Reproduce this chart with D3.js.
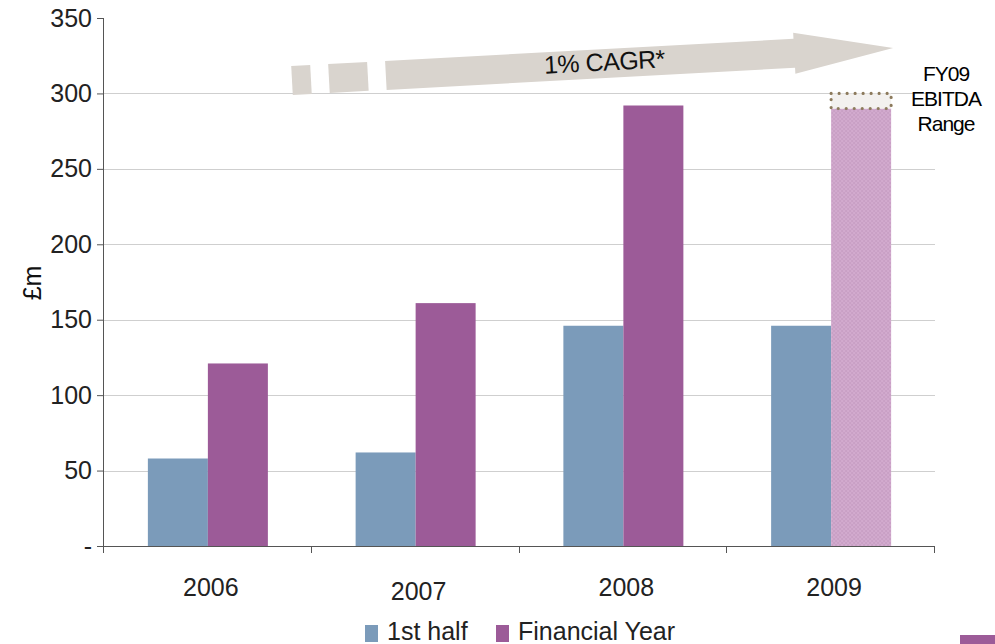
<!DOCTYPE html>
<html>
<head>
<meta charset="utf-8">
<script src="https://cdn.jsdelivr.net/npm/d3@7"></script>
<style>
  html, body { margin: 0; padding: 0; background: #fff; }
  svg { display: block; font-family: "Liberation Sans", Arial, Helvetica, sans-serif; }
</style>
</head>
<body>
<svg id="chart" width="995" height="644"></svg>
<script>
// EBITDA by year, £m
const years = ["2006", "2007", "2008", "2009"];
const series = ["1st half", "Financial Year"];
const firstHalf = [58, 62, 146, 146];
const financialYear = [121, 161, 292, 290];
const fy09RangeHigh = 300;          // top of the FY09 guidance range
const yTicks = [0, 50, 100, 150, 200, 250, 300, 350];
const yTickLabels = ["-", "50", "100", "150", "200", "250", "300", "350"];
const cagrLabel = "1% CAGR*";
const rangeLabel = ["FY09", "EBITDA", "Range"];

const colors = { "1st half": "#7b9bba", "Financial Year": "#9c5b98" };
const svg = d3.select("#chart");

const plotLeft = 104, plotRight = 935, plotTop = 18, plotBottom = 546;
const x = d3.scaleBand().domain(years).range([plotLeft, plotRight]).padding(0);
const groupW = 120;
const xs = d3.scaleBand().domain(series).range([0, groupW]).padding(0);
const y = d3.scaleLinear().domain([0, 350]).range([plotBottom, plotTop]);

// hatch pattern for the forecast FY09 bar
const defs = svg.append("defs");
const pat = defs.append("pattern").attr("id", "hatch")
  .attr("patternUnits", "userSpaceOnUse").attr("width", 4).attr("height", 4);
pat.append("rect").attr("width", 4).attr("height", 4).attr("fill", "#d2aace");
pat.append("rect").attr("width", 2).attr("height", 2).attr("fill", "#c9a0c5");
pat.append("rect").attr("x", 2).attr("y", 2).attr("width", 2).attr("height", 2).attr("fill", "#c9a0c5");

// gridlines
svg.append("g").selectAll("line")
  .data(yTicks.filter(t => t > 0 && t < 350))
  .join("line")
  .attr("x1", plotLeft).attr("x2", plotRight)
  .attr("y1", d => Math.round(y(d)) + 0.5).attr("y2", d => Math.round(y(d)) + 0.5)
  .attr("stroke", "#cfcfcf").attr("stroke-width", 1);

// bars
const rows = years.map((yr, i) => ({ year: yr, i, vals: [firstHalf[i], financialYear[i]] }));
const groups = svg.append("g").selectAll("g").data(rows).join("g")
  .attr("transform", d => `translate(${x(d.year) + (x.bandwidth() - groupW) / 2},0)`);
groups.selectAll("rect")
  .data(d => series.map((s, k) => ({ s, v: d.vals[k], forecast: d.year === "2009" && k === 1 })))
  .join("rect")
  .attr("x", d => xs(d.s))
  .attr("width", xs.bandwidth())
  .attr("y", d => y(d.v))
  .attr("height", d => y(0) - y(d.v))
  .attr("fill", d => d.forecast ? "url(#hatch)" : colors[d.s]);

// FY09 range box (dotted)
const fx = x("2009") + (x.bandwidth() - groupW) / 2 + xs("Financial Year");
svg.append("rect")
  .attr("x", fx).attr("width", xs.bandwidth())
  .attr("y", y(fy09RangeHigh)).attr("height", y(financialYear[3]) - y(fy09RangeHigh))
  .attr("fill", "#f3f1ef")
  .attr("stroke", "#8c7a5c").attr("stroke-width", 3.2)
  .attr("stroke-linecap", "round").attr("stroke-dasharray", "0 8");

// y axis
const yAxis = d3.axisLeft(y).tickValues(yTicks)
  .tickFormat((d, i) => yTickLabels[i]).tickSize(7).tickPadding(5);
const gy = svg.append("g").attr("transform", `translate(${plotLeft},0)`).call(yAxis);
gy.select(".domain").attr("stroke", "#555").attr("d", `M-0.5,${plotTop}V${plotBottom + 6}`);
gy.selectAll(".tick line").attr("stroke", "#555");
gy.selectAll(".tick text").attr("font-size", 25).attr("fill", "#222")
  .attr("font-family", "Liberation Sans, Arial, sans-serif");

// x axis
svg.append("line").attr("x1", plotLeft - 7).attr("x2", plotRight)
  .attr("y1", plotBottom + 0.5).attr("y2", plotBottom + 0.5).attr("stroke", "#555");
const bounds = years.map(d => x(d)).concat([plotRight]);
svg.append("g").selectAll("line").data(bounds).join("line")
  .attr("x1", d => Math.round(d) - 0.5).attr("x2", d => Math.round(d) - 0.5)
  .attr("y1", plotBottom).attr("y2", plotBottom + 7).attr("stroke", "#555");
svg.append("g").selectAll("text").data(years).join("text")
  .attr("x", d => x(d) + x.bandwidth() / 2 + 3)
  .attr("y", (d, i) => i === 1 ? 600 : 596)
  .attr("text-anchor", "middle").attr("font-size", 25).attr("fill", "#222")
  .text(d => d);

// y axis title
svg.append("text").attr("transform", "translate(41,283) rotate(-90)")
  .attr("text-anchor", "middle").attr("font-size", 25).attr("fill", "#111").text("£m");

// growth arrow
const arrow = svg.append("g").attr("transform", "translate(292,80.5) rotate(-3.1)");
const h = 14.5, hw = 20.5;
const arrowFill = "#d9d4ce";
[[0, 19], [37, 76]].forEach(([a, b]) => {
  arrow.append("rect").attr("x", a).attr("y", -h).attr("width", b - a).attr("height", 2 * h).attr("fill", arrowFill);
});
arrow.append("path")
  .attr("d", `M94,${-h}H503V${-hw}L602,0L503,${hw}V${h}H94Z`)
  .attr("fill", arrowFill);
arrow.append("text").attr("x", 313).attr("y", 7).attr("text-anchor", "middle")
  .attr("font-size", 25).attr("letter-spacing", -0.5).attr("fill", "#111").text(cagrLabel);

// range label
svg.append("g").selectAll("text").data(rangeLabel).join("text")
  .attr("x", 946).attr("y", (d, i) => 81 + i * 25)
  .attr("text-anchor", "middle").attr("font-size", 21).attr("fill", "#000")
  .attr("letter-spacing", -1)
  .text(d => d);

// legend
const legend = svg.append("g");
const legendItems = [{ s: "1st half", x: 365 }, { s: "Financial Year", x: 496 }];
legend.selectAll("rect").data(legendItems).join("rect")
  .attr("x", d => d.x).attr("y", 625).attr("width", 13).attr("height", 17)
  .attr("fill", d => colors[d.s]);
legend.selectAll("text").data(legendItems).join("text")
  .attr("x", d => d.x + 22).attr("y", 640).attr("font-size", 25).attr("fill", "#222")
  .text(d => d.s);

// swatch at the lower right edge
svg.append("rect").attr("x", 960).attr("y", 635).attr("width", 35).attr("height", 9)
  .attr("fill", colors["Financial Year"]);
</script>
</body>
</html>
